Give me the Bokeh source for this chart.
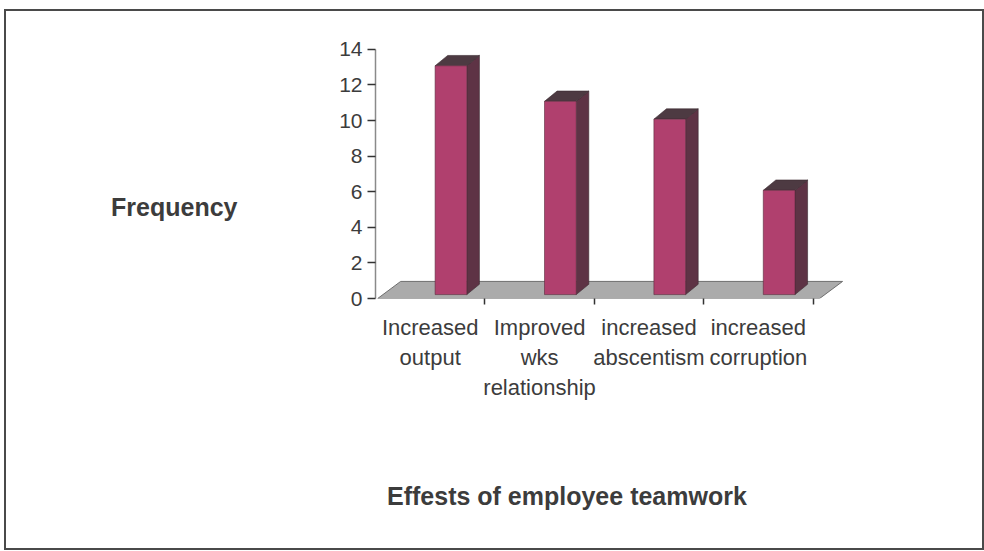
from bokeh.plotting import figure
from bokeh.models import Range1d, FixedTicker, LinearAxis
from bokeh.embed import file_html
from bokeh.resources import INLINE

categories = ["Increased output", "Improved wks relationship", "increased abscentism", "increased corruption"]
frequency = [13, 11, 10, 6]
y_ticks = [0, 2, 4, 6, 8, 10, 12, 14]
x_title = "Effests of employee teamwork"
y_title = "Frequency"

FRONT = "#B0406E"
SIDE = "#5E3345"
TOP = "#4D3A42"
FLOOR = "#ABABAB"
TXT = "#3c3c3c"
FONT = "Liberation Sans"

n = len(categories)
p = figure(width=980, height=541,
           x_range=Range1d(0, 4.324), y_range=Range1d(0, 14.5),
           output_backend="svg", toolbar_location=None,
           min_border_left=369, min_border_right=138,
           min_border_top=29, min_border_bottom=254)
p.styles = {"border": "2px solid #4a4a4a", "margin-left": "4px", "margin-top": "9px"}
p.outline_line_color = None
p.grid.visible = False
p.background_fill_color = "white"

# floor (3D base)
fdx, fdy = 0.21, 0.96
p.patch([0.02, n + 0.06, n + 0.06 + fdx, 0.02 + fdx], [0, 0, fdy, fdy],
        fill_color=FLOOR, line_color="#6e6e6e", line_width=1)

# 3D bars
half, off, dx, dy, base = 0.145, 0.19, 0.115, 0.58, 0.22
front_xs, front_ys, side_xs, side_ys, top_xs, top_ys = [], [], [], [], [], []
for i, v in enumerate(frequency):
    c = i + 0.5 + off
    x0, x1 = c - half, c + half
    t = v + 0.08
    front_xs.append([x0, x1, x1, x0]); front_ys.append([base, base, t, t])
    side_xs.append([x1, x1 + dx, x1 + dx, x1]); side_ys.append([base, base + dy, t + dy, t])
    top_xs.append([x0, x1, x1 + dx, x0 + dx]); top_ys.append([t, t, t + dy, t + dy])
p.patches(side_xs, side_ys, fill_color=SIDE, line_color="#3a2a30", line_width=0.6)
p.patches(top_xs, top_ys, fill_color=TOP, line_color="#3a2a30", line_width=0.6)
p.patches(front_xs, front_ys, fill_color=FRONT, line_color="#5a2a3c", line_width=0.6)

# x axis
xa = p.xaxis[0]
centers = [i + 0.5 for i in range(n)]
xa.ticker = FixedTicker(ticks=centers, minor_ticks=[i + 1 for i in range(n)])
xa.major_label_overrides = {c: lab.replace(" ", "\n") for c, lab in zip(centers, categories)}
xa.bounds = (0, n)
xa.axis_line_color = None
xa.major_tick_out = 0
xa.major_tick_in = 0
xa.minor_tick_out = 6
xa.minor_tick_in = 0
xa.minor_tick_line_color = "#333333"
xa.minor_tick_line_width = 1.5
xa.major_label_standoff = 10
xa.major_label_text_font = FONT
xa.major_label_text_font_size = "22px"
xa.major_label_text_color = TXT

# y axis
ya = p.yaxis[0]
ya.ticker = FixedTicker(ticks=y_ticks, minor_ticks=[])
ya.bounds = (0, 14)
ya.axis_line_color = "#8a8a8a"
ya.axis_line_width = 1.5
ya.major_tick_out = 8
ya.major_tick_in = 0
ya.major_tick_line_color = "#333333"
ya.major_tick_line_width = 1.5
ya.major_label_standoff = 5
ya.major_label_text_font = FONT
ya.major_label_text_font_size = "21px"
ya.major_label_text_color = TXT

# axis titles as extra axes (horizontal text placed like the original)
def title_axis(pos, text, standoff):
    ax = LinearAxis(ticker=FixedTicker(ticks=[pos], minor_ticks=[]),
                    major_label_overrides={pos: text},
                    axis_line_color=None, major_tick_line_color=None,
                    minor_tick_line_color=None, major_tick_out=0, major_tick_in=0,
                    major_label_standoff=standoff, major_label_text_font=FONT,
                    major_label_text_font_size="25px", major_label_text_font_style="bold",
                    major_label_text_color=TXT)
    return ax

p.add_layout(title_axis(5.14, y_title, 99), "left")
p.add_layout(title_axis(1.75, x_title, 79), "below")

open("out.html", "w").write(file_html(p, INLINE))
